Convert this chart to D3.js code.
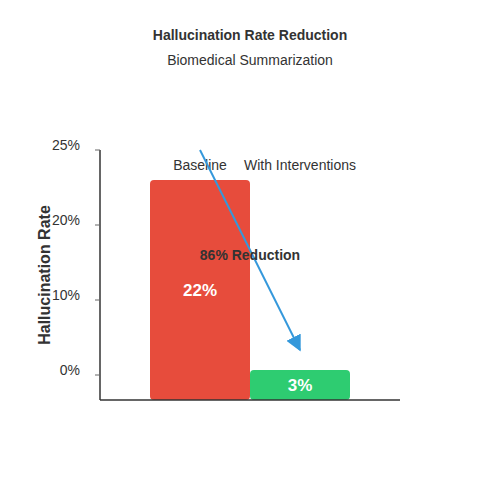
<!DOCTYPE html><html><head><script src="https://cdn.jsdelivr.net/npm/d3@7"></script>
<style>body{margin:0}text{font-family:"Liberation Sans",Arial,sans-serif}</style></head><body>
<svg width="500" height="500"></svg>
<script>
const categories=["Baseline","With Interventions"];
const values=[22,3];
const colors=["#e74c3c","#2ecc71"];
const tickVals=[2.5,10,17.5,25];
const tickLabels=["0%","10%","20%","25%"];
const svg=d3.select("svg");
const x=d3.scaleBand().domain(categories).range([150,350]).padding(0);
const y=d3.scaleLinear().domain([0,25]).range([400,150]);
svg.append("text").attr("x",250).attr("y",40).attr("text-anchor","middle").attr("font-size",14).attr("font-weight","bold").attr("fill","#333").text("Hallucination Rate Reduction");
svg.append("text").attr("x",250).attr("y",65).attr("text-anchor","middle").attr("font-size",14).attr("fill","#333").text("Biomedical Summarization");
svg.selectAll("rect.b").data(values).join("rect").attr("x",(d,i)=>x(categories[i])).attr("width",x.bandwidth()).attr("y",d=>y(d)).attr("height",d=>400-y(d)).attr("rx",4).attr("fill",(d,i)=>colors[i]);
svg.selectAll("text.v").data(values).join("text").attr("x",(d,i)=>x(categories[i])+x.bandwidth()/2).attr("y",(d,i)=>i==0?(y(d)+400)/2+6:(y(d)+400)/2+6).attr("text-anchor","middle").attr("font-size",17).attr("font-weight","bold").attr("fill","#fff").text(d=>d+"%");
svg.selectAll("text.c").data(categories).join("text").attr("x",d=>x(d)+x.bandwidth()/2).attr("y",170).attr("text-anchor","middle").attr("font-size",14).attr("fill","#333").text(d=>d);
// axes
svg.append("line").attr("x1",100).attr("x2",100).attr("y1",150).attr("y2",400).attr("stroke","#333").attr("stroke-width",1.5);
svg.append("line").attr("x1",100).attr("x2",400).attr("y1",400).attr("y2",400).attr("stroke","#333").attr("stroke-width",1.5);
tickVals.forEach((t,i)=>{
 svg.append("line").attr("x1",95).attr("x2",100).attr("y1",y(t)).attr("y2",y(t)).attr("stroke","#666");
 svg.append("text").attr("x",80).attr("y",y(t)).attr("text-anchor","end").attr("font-size",14).attr("fill","#333").text(tickLabels[i]);
});
svg.append("text").attr("transform","translate(50,275) rotate(-90)").attr("text-anchor","middle").attr("font-size",16).attr("font-weight","bold").attr("fill","#333").text("Hallucination Rate");
// arrow
svg.append("defs").append("marker").attr("id","ah").attr("viewBox","0 0 10 10").attr("refX",9).attr("refY",5).attr("markerWidth",8).attr("markerHeight",8).attr("orient","auto").append("path").attr("d","M0,0L10,5L0,10z").attr("fill","#3498db");
svg.append("line").attr("x1",200).attr("y1",150).attr("x2",300).attr("y2",350).attr("stroke","#3498db").attr("stroke-width",2).attr("marker-end","url(#ah)");
svg.append("text").attr("x",250).attr("y",260).attr("text-anchor","middle").attr("font-size",14).attr("font-weight","bold").attr("fill","#333").text("86% Reduction");
</script></body></html>
